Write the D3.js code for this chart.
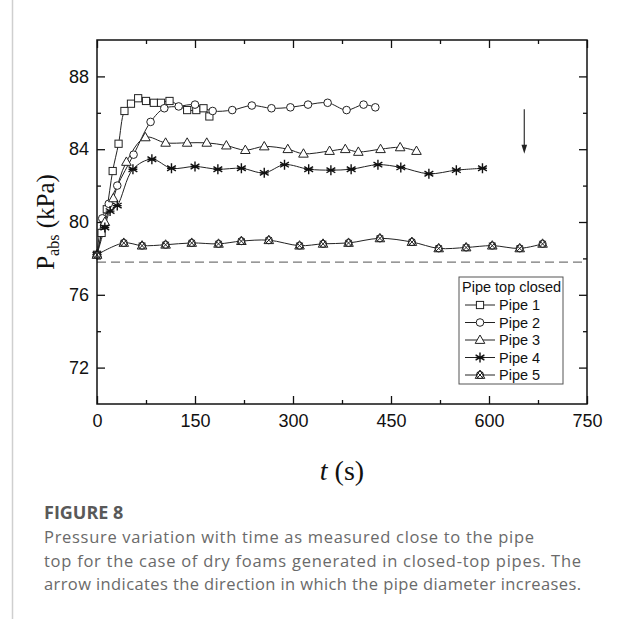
<!DOCTYPE html>
<html>
<head>
<meta charset="utf-8">
<script src="https://cdn.jsdelivr.net/npm/d3@7"></script>
<style>
  html, body { margin: 0; padding: 0; background: #fff; }
  svg { display: block; }
</style>
</head>
<body>
<svg width="622" height="619"></svg>
<script>
// data (t in s, P in kPa)
const pipe1T = [0, 7, 15, 24, 33, 42, 52, 63, 75, 87, 98, 111, 138, 152, 163, 172]
const pipe1P = [78.2, 79.4, 80.7, 82.8, 84.3, 86.1, 86.5, 86.8, 86.65, 86.55, 86.55, 86.65, 86.15, 86.15, 86.25, 85.8]

const pipe2T = [0, 8, 18, 31, 56, 82, 103, 125, 150, 177, 207, 237, 267, 296, 323, 353, 382, 408, 426]
const pipe2P = [78.2, 80.2, 81.0, 82.0, 83.7, 85.5, 86.25, 86.35, 86.45, 86.1, 86.15, 86.4, 86.25, 86.3, 86.45, 86.55, 86.15, 86.45, 86.3]

const pipe3T = [0, 12, 25, 45, 74, 105, 138, 168, 198, 227, 256, 292, 316, 356, 380, 400, 434, 464, 489]
const pipe3P = [78.2, 80.0, 81.3, 83.3, 84.65, 84.35, 84.35, 84.35, 84.2, 83.95, 84.15, 84.0, 83.75, 83.9, 84.0, 83.85, 84.0, 84.1, 83.9]

const pipe4T = [0, 12, 20, 31, 55, 84, 114, 150, 185, 221, 256, 287, 324, 358, 389, 430, 465, 508, 550, 590]
const pipe4P = [78.2, 79.7, 80.6, 80.9, 82.9, 83.45, 82.95, 83.05, 82.9, 82.95, 82.7, 83.15, 82.9, 82.85, 82.9, 83.15, 83.0, 82.65, 82.85, 82.95]

const pipe5T = [0, 41, 69, 105, 145, 186, 221, 263, 310, 346, 385, 433, 482, 523, 565, 605, 647, 682]
const pipe5P = [78.2, 78.85, 78.7, 78.75, 78.85, 78.8, 78.95, 79.0, 78.7, 78.8, 78.85, 79.1, 78.9, 78.55, 78.6, 78.7, 78.55, 78.8]

const seriesNames = ['Pipe 1', 'Pipe 2', 'Pipe 3', 'Pipe 4', 'Pipe 5']
const markerKinds = ['square', 'circle', 'triangle', 'asterisk', 'crossed']

const xTicks = [0, 150, 300, 450, 600, 750]
const xMinor = [75, 225, 375, 525, 675]
const yTicks = [72, 76, 80, 84, 88]
const yMinor = [74, 78, 82, 86]

const ambientP = 77.8           // dashed reference line
const arrowT = 654
const arrowFrom = 86.2
const arrowTo = 83.75

const legendTitle = 'Pipe top closed'
const figLabel = 'FIGURE 8'
const captionLines = [
    'Pressure variation with time as measured close to the pipe',
    'top for the case of dry foams generated in closed-top pipes. The',
    'arrow indicates the direction in which the pipe diameter increases.'
]

const svg = d3.select('svg')

const margin = {top: 40, right: 35, bottom: 215, left: 97}
const innerWidth = 587 - margin.left
const innerHeight = 404 - margin.top

const sans = "'Liberation Sans', Arial, sans-serif"
const serif = "'Liberation Serif', 'Times New Roman', serif"

// left grey rule of the figure box
svg.append('line')
    .attr('x1', 12.5).attr('x2', 12.5)
    .attr('y1', 0).attr('y2', 619)
    .attr('stroke', '#cfcfcf')
    .attr('stroke-width', 1.5)

const g = svg.append('g')
    .attr('transform', `translate(${margin.left},${margin.top})`)

//SCALES
const xScale = d3.scaleLinear().domain([0, 750]).range([0, innerWidth])
const yScale = d3.scaleLinear().domain([70, 90]).range([innerHeight, 0])

//AXES (ticks point inward, like Origin)
const styleAxis = sel => {
    sel.select('.domain').remove()
    sel.attr('font-family', null).attr('font-size', null)
    sel.selectAll('line').attr('stroke', '#111').attr('stroke-width', 1.3)
    sel.selectAll('text')
        .attr('fill', '#111')
        .attr('font-family', sans)
        .attr('font-size', 18)
}

g.append('g')
    .attr('transform', `translate(0,${innerHeight})`)
    .call(d3.axisBottom(xScale).tickValues(xTicks).tickSize(-8).tickPadding(10).tickFormat(d3.format('d')))
    .call(styleAxis)
g.append('g')
    .attr('transform', `translate(0,${innerHeight})`)
    .call(d3.axisBottom(xScale).tickValues(xMinor).tickSize(-4).tickFormat(''))
    .call(styleAxis)
g.append('g')
    .call(d3.axisTop(xScale).tickValues(xTicks).tickSize(-8).tickFormat(''))
    .call(styleAxis)
g.append('g')
    .call(d3.axisTop(xScale).tickValues(xMinor).tickSize(-4).tickFormat(''))
    .call(styleAxis)

g.append('g')
    .call(d3.axisLeft(yScale).tickValues(yTicks).tickSize(-8).tickPadding(8))
    .call(styleAxis)
g.append('g')
    .call(d3.axisLeft(yScale).tickValues(yMinor).tickSize(-4).tickFormat(''))
    .call(styleAxis)
g.append('g')
    .attr('transform', `translate(${innerWidth},0)`)
    .call(d3.axisRight(yScale).tickValues(yTicks).tickSize(-8).tickFormat(''))
    .call(styleAxis)
g.append('g')
    .attr('transform', `translate(${innerWidth},0)`)
    .call(d3.axisRight(yScale).tickValues(yMinor).tickSize(-4).tickFormat(''))
    .call(styleAxis)

// dashed ambient pressure line
g.append('line')
    .attr('x1', xScale(0)).attr('x2', xScale(750))
    .attr('y1', yScale(ambientP)).attr('y2', yScale(ambientP))
    .attr('stroke', '#777')
    .attr('stroke-width', 1.3)
    .attr('stroke-dasharray', '9,5')

//MARKERS
const drawMarker = (sel, kind) => {
    const st = s => s.attr('fill', 'white').attr('stroke', '#222').attr('stroke-width', 1)
    if (kind === 'square') {
        sel.append('rect').attr('x', -3.6).attr('y', -3.6).attr('width', 7.2).attr('height', 7.2).call(st)
    } else if (kind === 'circle') {
        sel.append('circle').attr('r', 3.8).call(st)
    } else if (kind === 'triangle') {
        sel.append('path').attr('d', 'M0,-5L4.8,3.4L-4.8,3.4Z').call(st)
    } else if (kind === 'asterisk') {
        sel.append('path').attr('d', 'M0,-5L0,5M-4.4,-2.6L4.4,2.6M-4.4,2.6L4.4,-2.6M-4.4,0L4.4,0')
            .attr('fill', 'none').attr('stroke', '#111').attr('stroke-width', 1.4)
    } else {
        sel.append('path').attr('d', 'M0,-5L4.8,3.4L-4.8,3.4Z').call(st)
        sel.append('circle').attr('r', 3.6).attr('fill', 'none').attr('stroke', '#222')
        sel.append('path').attr('d', 'M-3,-3L3,3M-3,3L3,-3').attr('stroke', '#222').attr('fill', 'none')
    }
}

const allSeries = [
    [pipe1T, pipe1P], [pipe2T, pipe2P], [pipe3T, pipe3P], [pipe4T, pipe4P], [pipe5T, pipe5P]
].map(([ts, ps], i) => ({
    name: seriesNames[i],
    kind: markerKinds[i],
    values: ts.map((t, j) => ({t, p: ps[j]}))
}))

const line = d3.line()
    .x(d => xScale(d.t))
    .y(d => yScale(d.p))
    .curve(d3.curveCatmullRom.alpha(0.5))

g.selectAll('.series-line')
    .data(allSeries)
    .enter().append('path')
        .attr('class', 'series-line')
        .attr('d', d => line(d.values))
        .attr('fill', 'none')
        .attr('stroke', '#222')
        .attr('stroke-width', 1)

allSeries.forEach(s => {
    g.append('g').selectAll('g')
        .data(s.values)
        .enter().append('g')
            .attr('transform', d => `translate(${xScale(d.t)},${yScale(d.p)})`)
            .each(function() { drawMarker(d3.select(this), s.kind) })
})

// frame
g.append('rect')
    .attr('width', innerWidth)
    .attr('height', innerHeight)
    .attr('fill', 'none')
    .attr('stroke', '#111')
    .attr('stroke-width', 1.5)

// arrow
g.append('line')
    .attr('x1', xScale(arrowT)).attr('x2', xScale(arrowT))
    .attr('y1', yScale(arrowFrom)).attr('y2', yScale(arrowTo) - 8)
    .attr('stroke', '#333').attr('stroke-width', 1.2)
g.append('path')
    .attr('transform', `translate(${xScale(arrowT)},${yScale(arrowTo)})`)
    .attr('d', 'M0,0L-2.8,-9L2.8,-9Z')
    .attr('fill', '#222')

//LEGEND
const legend = svg.append('g').attr('transform', 'translate(459,277)')
legend.append('rect')
    .attr('width', 104).attr('height', 107)
    .attr('fill', 'white')
    .attr('stroke', '#555').attr('stroke-width', 1)
legend.append('text')
    .text(legendTitle)
    .attr('x', 3).attr('y', 15)
    .attr('fill', '#111')
    .attr('font-family', sans).attr('font-size', 14.5)
const item = legend.selectAll('.item')
    .data(allSeries)
    .enter().append('g')
        .attr('class', 'item')
        .attr('transform', (d, i) => `translate(0,${28 + i * 17.5})`)
item.append('line')
    .attr('x1', 6).attr('x2', 36)
    .attr('stroke', '#222').attr('stroke-width', 1)
item.append('g')
    .attr('transform', 'translate(21,0)')
    .each(function(d) { drawMarker(d3.select(this), d.kind) })
item.append('text')
    .text(d => d.name)
    .attr('x', 40).attr('dy', '0.36em')
    .attr('fill', '#111')
    .attr('font-family', sans).attr('font-size', 14.5)

// axis titles
const xTitle = svg.append('text')
    .attr('x', margin.left + innerWidth / 2)
    .attr('y', 480)
    .attr('text-anchor', 'middle')
    .attr('font-family', serif).attr('font-size', 28)
    .attr('fill', '#111')
xTitle.append('tspan').text('t').attr('font-style', 'italic')
xTitle.append('tspan').text(' (s)')

const yTitle = svg.append('text')
    .attr('transform', `translate(54,${margin.top + innerHeight / 2}) rotate(-90)`)
    .attr('text-anchor', 'middle')
    .attr('font-family', serif).attr('font-size', 25)
    .attr('fill', '#111')
yTitle.append('tspan').text('P')
yTitle.append('tspan').text('abs').attr('dy', 5).attr('font-size', 16)
yTitle.append('tspan').text(' (kPa)').attr('dy', -5)

// caption
svg.append('text')
    .text(figLabel)
    .attr('x', 44).attr('y', 519)
    .attr('fill', '#595959')
    .attr('font-family', "'Open Sans', sans-serif").attr('font-size', 18).attr('font-weight', 700)

const captionWidths = [490, 537, 537]
svg.selectAll('.caption')
    .data(captionLines)
    .enter().append('text')
        .attr('class', 'caption')
        .text(d => d)
        .attr('x', 44)
        .attr('y', (d, i) => 543 + i * 23.5)
        .attr('textLength', (d, i) => captionWidths[i])
        .attr('lengthAdjust', 'spacing')
        .attr('fill', '#6a6a6a')
        .attr('font-family', "'Open Sans', sans-serif").attr('font-size', 16.5)
</script>
</body>
</html>
